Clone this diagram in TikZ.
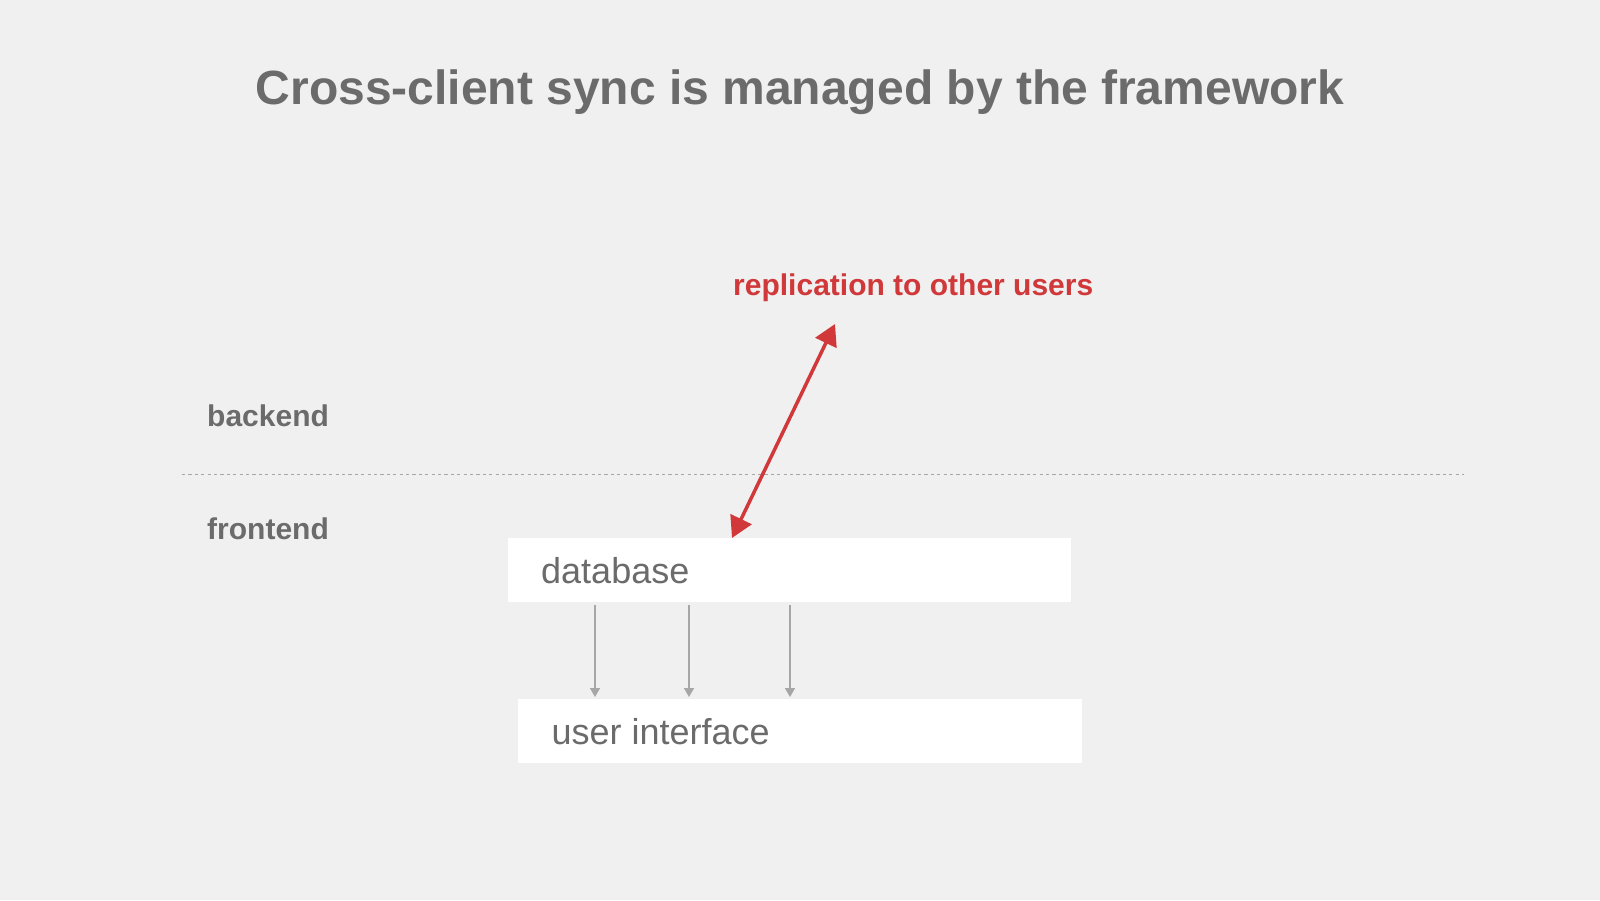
\documentclass[tikz,border=0pt]{standalone}
\usepackage{fontspec}
\setmainfont{Liberation Sans}
\usetikzlibrary{positioning,arrows.meta}
\definecolor{bgcol}{HTML}{F0F0F0}
\definecolor{txtgray}{HTML}{6B6B6B}
\definecolor{linegray}{HTML}{A6A6A6}
\definecolor{replred}{HTML}{D0383A}
\tikzset{
	lbl/.style={inner sep=0pt,anchor=base west,text=txtgray,font=\fontsize{30}{36}\selectfont\bfseries},
	box/.style={fill=white,inner ysep=0pt,inner xsep=33pt,minimum height=64pt,text width=497pt,align=flush left,anchor=north west,text=txtgray,font=\fontsize{36}{43}\selectfont},
	sync/.style={draw=linegray,line width=1.5pt,-{Triangle[length=9pt,width=10pt]}},
	repl/.style={draw=replred,line width=3.5pt,{Triangle[length=21pt,width=23pt]}-{Triangle[length=21pt,width=23pt]}},
}

\begin{document}
\begin{tikzpicture}[x=1pt,y=-1pt]
	\fill[bgcol] (0,0) rectangle (1600,900);
	\useasboundingbox (0,0) rectangle (1600,900);
	%% title
	\node[inner sep=0pt,anchor=base,text=txtgray,font=\fontsize{48}{58}\selectfont\bfseries] (title) at (800,104) {Cross-client sync is managed by the framework};
	%% layers
	\node[lbl] (backend) at (207,426) {backend};
	\node[lbl,below=113pt of backend.base west,anchor=base west] (frontend) {frontend};
	\coordinate (sepL) at (182,474.5);
	\coordinate (sepR) at (1464,474.5);
	\draw[linegray,line width=1.5pt,dash pattern=on 3.2pt off 3.2pt] (sepL) -- (sepR);
	%% boxes
	\node[box] (db) at (508,538) {database};
	\node[box,minimum width=564pt] (ui) at (518,699) {user interface};
	% database -> user interface
	\foreach \dx in {87,181,282}
		\draw[sync] ([xshift=\dx pt,yshift=-3pt]db.south west) -- ([xshift=\dx pt-10pt,yshift=2pt]ui.north west);
	%% replication
	\coordinate (others) at (835,324);
	\node[lbl,text=replred] (repltxt) at (733,295) {replication to other users};
	\draw[repl] ([xshift=224pt]db.north west) -- (others);
\end{tikzpicture}
\end{document}
